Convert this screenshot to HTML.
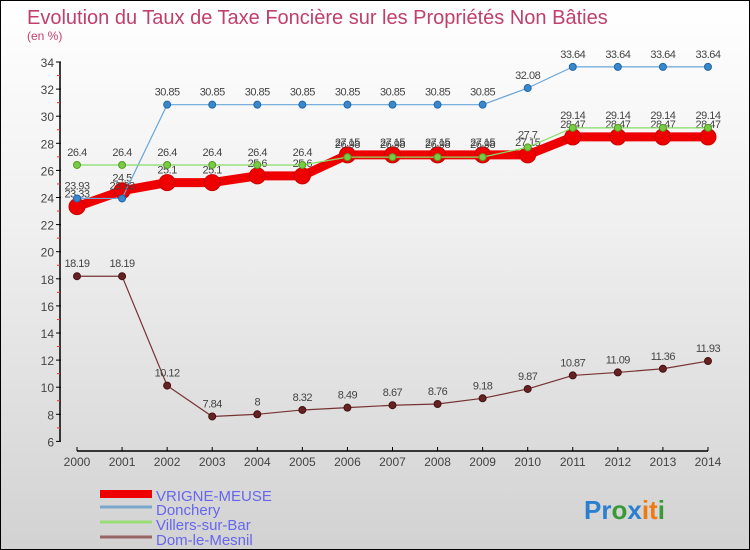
<!DOCTYPE html>
<html><head><meta charset="utf-8"><style>
body{margin:0}
#c{position:relative;width:748px;height:548px;border:1px solid #000;background:linear-gradient(#fff 0%,#f0f0f0 40%,#d2d2d2 100%);font-family:"Liberation Sans",sans-serif;overflow:hidden}
</style></head><body>
<div id="c">
<svg width="748" height="548" style="position:absolute;left:0;top:0" id="svg">
<text x="26" y="23" font-size="20" fill="#c0406a">Evolution du Taux de Taxe Foncière sur les Propriétés Non Bâties</text>
<text x="26" y="39" font-size="12" fill="#c0406a">(en %)</text>
<g id="axes"></g><g id="series"></g>
<g>
<rect x="99" y="489" width="52" height="8" fill="#e00"/>
<text x="155" y="500" font-size="15" fill="#6666ee">VRIGNE-MEUSE</text>
<line x1="99" y1="506" x2="151" y2="506" stroke="#7aa6cc" stroke-width="3"/>
<text x="155" y="514" font-size="15" fill="#6666ee">Donchery</text>
<line x1="99" y1="521" x2="151" y2="521" stroke="#99dd77" stroke-width="3"/>
<text x="155" y="529" font-size="15" fill="#6666ee">Villers-sur-Bar</text>
<line x1="99" y1="536" x2="151" y2="536" stroke="#996666" stroke-width="3"/>
<text x="155" y="544" font-size="15" fill="#6666ee">Dom-le-Mesnil</text>
</g>
<text x="583" y="518" font-size="26" font-weight="bold"><tspan fill="#2a7fcf">Pr</tspan><tspan fill="#3a9a3a">o</tspan><tspan fill="#2a7fcf">x</tspan><tspan fill="#f07a10">it</tspan><tspan fill="#3a9a3a">i</tspan></text>
</svg>
</div>
<script>
const years=[2000,2001,2002,2003,2004,2005,2006,2007,2008,2009,2010,2011,2012,2013,2014];
const yTicks=[6,8,10,12,14,16,18,20,22,24,26,28,30,32,34];
const vrigne=[23.33,24.5,25.1,25.1,25.6,25.6,27.15,27.15,27.15,27.15,27.15,28.47,28.47,28.47,28.47];
const donchery=[23.93,23.93,30.85,30.85,30.85,30.85,30.85,30.85,30.85,30.85,32.08,33.64,33.64,33.64,33.64];
const villers=[26.4,26.4,26.4,26.4,26.4,26.4,26.98,26.98,26.98,26.98,27.7,29.14,29.14,29.14,29.14];
const dom=[18.19,18.19,10.12,7.84,8,8.32,8.49,8.67,8.76,9.18,9.87,10.87,11.09,11.36,11.93];
const NS="http://www.w3.org/2000/svg";
const X=i=>76+i*45.07, Y=v=>61+(34-v)*13.55;
function mk(t,a,p){const e=document.createElementNS(NS,t);for(const k in a)e.setAttribute(k,a[k]);p.appendChild(e);return e;}
const ax=document.getElementById('axes');
let l=mk('line',{x1:59,y1:61,x2:59,y2:440,stroke:'#000','stroke-width':1.5},ax);


yTicks.forEach(v=>{
 mk('line',{x1:55,y1:Y(v),x2:60,y2:Y(v),stroke:'#000'},ax);
 if(v<34) mk('line',{x1:56,y1:Y(v+1),x2:59,y2:Y(v+1),stroke:'#e33'},ax);
 const t=mk('text',{x:53,y:Y(v)+5,'font-size':12,fill:'#444','text-anchor':'end'},ax);t.textContent=v;
 
 
});
l=mk('line',{x1:76,y1:450,x2:707,y2:450,stroke:'#000','stroke-width':1.5},ax);


years.forEach((y,i)=>{
 mk('line',{x1:X(i),y1:446,x2:X(i),y2:450,stroke:'#000'},ax);
 const t=mk('text',{x:X(i),y:465,'font-size':12,fill:'#444','text-anchor':'middle'},ax);t.textContent=y;
 
 
});
const sg=document.getElementById('series');
function draw(name,data,col,w,r,dot,stroke){
 const g=mk('g',{},sg);
 
 
 mk('polyline',{points:data.map((v,i)=>X(i)+','+Y(v)).join(' '),fill:'none',stroke:col,'stroke-width':w,'stroke-linejoin':'round'},g);
 data.forEach((v,i)=>{
  const c=mk('circle',{cx:X(i),cy:Y(v),r:r,fill:dot,stroke:stroke,'stroke-width':1},g);
  
  
  const t=mk('text',{x:X(i),y:Y(v)-9,'font-size':11,fill:'#444','text-anchor':'middle','letter-spacing':'-0.5'},g);t.textContent=v;
  
  
 });
}
draw('dom',dom,'#773333',1.2,3.5,'#662222','#441111');
draw('vrigne',vrigne,'#e00',9,8,'#e00','#c00');
draw('donchery',donchery,'#6aa6d8',1.2,3.5,'#3a88cc','#2266aa');
draw('villers',villers,'#88dd66',1.2,3.5,'#77cc44','#559922');
</script>
</body></html>
